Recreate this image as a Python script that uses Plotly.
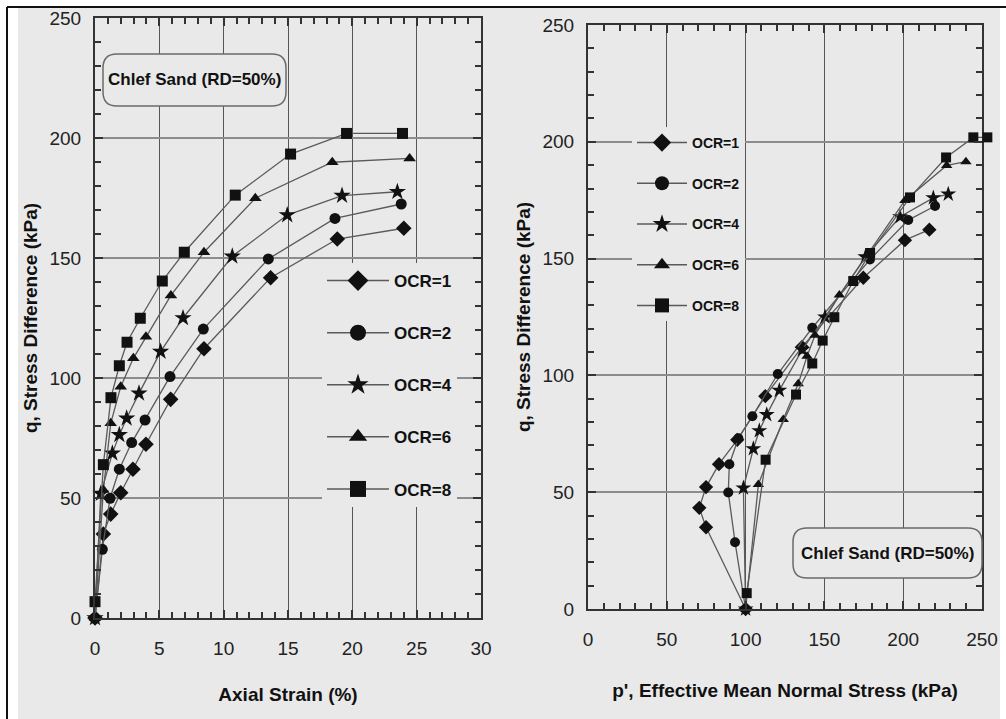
import plotly.graph_objects as go

W, H = 1006, 719

# ---------------- data ----------------
ocr_labels = ["OCR=1", "OCR=2", "OCR=4", "OCR=6", "OCR=8"]
symbols = ["diamond", "circle", "star", "triangle-up", "square"]

strain_ocr1 = [0, 0.65, 1.22, 2.0, 2.95, 3.96, 5.88, 8.47, 13.65, 18.83, 24.0]
q_ocr1 = [0, 35, 43.3, 52.2, 62, 72.4, 91.1, 112.2, 141.8, 157.9, 162.4]
p_ocr1 = [100, 74.9, 70.6, 74.9, 83.1, 94.7, 112.5, 135.8, 174.7, 201.1, 216.6]

strain_ocr2 = [0, 0.57, 1.17, 1.89, 2.85, 3.89, 5.83, 8.42, 13.47, 18.65, 23.8]
q_ocr2 = [0, 28.6, 49.9, 62, 73.1, 82.5, 100.6, 120.4, 149.6, 166.5, 172.5]
p_ocr2 = [100, 93.3, 89.0, 89.7, 95.4, 104.3, 120.4, 142.3, 178.9, 203.2, 220.2]

strain_ocr4 = [0, 0.45, 1.35, 1.89, 2.46, 3.42, 5.1, 6.84, 10.67, 14.94, 19.2, 23.5]
q_ocr4 = [0, 51.8, 68.6, 76.3, 83.2, 93.6, 111, 125, 150.7, 167.9, 176, 177.6]
p_ocr4 = [100, 98.6, 104.9, 108.7, 113.4, 121.4, 136, 150.4, 176, 198, 219.1, 228.6]

strain_ocr6 = [0, 0.65, 1.22, 2.0, 2.98, 3.96, 5.9, 8.47, 12.46, 18.44, 24.45]
q_ocr6 = [0, 53.3, 81.1, 96.4, 108.2, 117.2, 134.4, 152.4, 174.9, 189.9, 191.5]
p_ocr6 = [100, 108.1, 123.9, 133.4, 139, 144, 159.5, 178, 201.1, 227.6, 239.8]

strain_ocr8 = [0, 0.65, 1.24, 1.89, 2.49, 3.52, 5.23, 6.94, 10.9, 15.2, 19.55, 23.9]
q_ocr8 = [6.8, 63.9, 91.8, 105.1, 114.9, 124.9, 140.4, 152.4, 176.2, 193.3, 201.9, 201.9]
p_ocr8 = [100.7, 112.7, 132, 142.3, 148.9, 156.3, 168.3, 179, 204.3, 227.2, 244.5, 253.4]

strain_series = [strain_ocr1, strain_ocr2, strain_ocr4, strain_ocr6, strain_ocr8]
q_series = [q_ocr1, q_ocr2, q_ocr4, q_ocr6, q_ocr8]
p_series = [p_ocr1, p_ocr2, p_ocr4, p_ocr6, p_ocr8]

note_text = "Chlef Sand (RD=50%)"
left_xtitle = "Axial Strain (%)"
right_xtitle = "p', Effective Mean Normal Stress (kPa)"
ytitle = "q, Stress Difference (kPa)"

# ---------------- styling ----------------
FONT = "Liberation Sans, Arial, sans-serif"
LINE_C = "#5a5a5a"
MARK_C = "#111111"
BG = "#e9e9e9"
plot_marker = {"diamond": 12, "circle": 11, "star": 13, "triangle-up": 11, "square": 11}


def px_x(x):
    return x / W


def px_y(y):
    return 1 - y / H


# panel geometry (pixels)
L_X0, L_X1, L_YT, L_YB = 95, 481, 18, 618
R_X0, R_X1, R_YT, R_YB = 588, 982, 25, 609
R_RANGE = 250
R_SCALE = (R_X1 - R_X0) / R_RANGE  # pixels per kPa
# a narrow hidden strip just right of the right panel, with the same scale,
# so that the last OCR=8 point (beyond 250 kPa) is drawn as in the original
S_X0, S_X1 = R_X1 + 1, R_X1 + 16
S_RANGE = [R_RANGE + (S_X0 - R_X1) / R_SCALE, R_RANGE + (S_X1 - R_X1) / R_SCALE]

fig = go.Figure()

for i in range(5):
    sym = symbols[i]
    fig.add_trace(go.Scatter(
        x=strain_series[i], y=q_series[i], mode="lines+markers",
        line=dict(color=LINE_C, width=1.3),
        marker=dict(symbol=sym, size=plot_marker[sym], color=MARK_C),
        showlegend=False, xaxis="x", yaxis="y", cliponaxis=False))
    fig.add_trace(go.Scatter(
        x=p_series[i], y=q_series[i], mode="lines+markers",
        line=dict(color=LINE_C, width=1.3),
        marker=dict(symbol=sym, size=plot_marker[sym] - 1, color=MARK_C),
        showlegend=False, xaxis="x2", yaxis="y2", cliponaxis=False))

# OCR=8 again on the hidden strip (only its part beyond 250 kPa shows there)
fig.add_trace(go.Scatter(
    x=p_series[4], y=q_series[4], mode="lines+markers",
    line=dict(color=LINE_C, width=1.3),
    marker=dict(symbol=symbols[4], size=plot_marker[symbols[4]] - 1, color=MARK_C),
    showlegend=False, xaxis="x3", yaxis="y3", cliponaxis=False))

# legend entries (empty traces, only shown in the legends)
for i in range(5):
    fig.add_trace(go.Scatter(
        x=[None], y=[None], mode="lines+markers", name=ocr_labels[i],
        line=dict(color=LINE_C, width=1.5),
        marker=dict(symbol=symbols[i], size=16, color=MARK_C),
        legend="legend", legendgroup="L%d" % i, xaxis="x", yaxis="y"))
for i in range(5):
    fig.add_trace(go.Scatter(
        x=[None], y=[None], mode="lines+markers", name=ocr_labels[i],
        line=dict(color=LINE_C, width=1.5),
        marker=dict(symbol=symbols[i], size=14, color=MARK_C),
        legend="legend2", legendgroup="R%d" % i, xaxis="x2", yaxis="y2"))

axis_common = dict(
    showline=True, linecolor="#333333", linewidth=2, mirror="ticks",
    ticks="inside", ticklen=8, tickwidth=2, tickcolor="#333333",
    zeroline=False, showgrid=True, automargin=False,
    tickfont=dict(family=FONT, size=19, color="#222222"),
)
minor_common = dict(ticks="inside", ticklen=6, tickwidth=2, tickcolor="#333333", showgrid=False)

xa = dict(axis_common, gridcolor="#555555", gridwidth=1)
ya = dict(axis_common, gridcolor="#8c8c8c", gridwidth=2)
title_font = dict(family=FONT, size=19, color="#111111")

fig.update_layout(
    width=W, height=H,
    margin=dict(l=0, r=0, t=0, b=0, autoexpand=False),
    paper_bgcolor="white", plot_bgcolor=BG,
    font=dict(family=FONT, color="#222222"),
    xaxis=dict(xa, domain=[px_x(L_X0), px_x(L_X1)], range=[0, 30], dtick=5,
               minor=dict(minor_common, dtick=1), ticklabelstandoff=12,
               title=dict(text="<b>%s</b>" % left_xtitle, font=title_font, standoff=30),
               anchor="y"),
    yaxis=dict(ya, domain=[px_y(L_YB), px_y(L_YT)], range=[0, 250], dtick=50,
               minor=dict(minor_common, dtick=10), ticklabelstandoff=8,
               title=dict(text="<b>%s</b>" % ytitle, font=title_font, standoff=7),
               anchor="x"),
    xaxis2=dict(xa, domain=[px_x(R_X0), px_x(R_X1)], range=[0, R_RANGE], dtick=50,
                minor=dict(minor_common, dtick=10), ticklabelstandoff=12,
                title=dict(text="<b>%s</b>" % right_xtitle, font=title_font, standoff=35),
                anchor="y2"),
    yaxis2=dict(ya, domain=[px_y(R_YB), px_y(R_YT)], range=[0, 250], dtick=50,
                minor=dict(minor_common, dtick=10), ticklabelstandoff=8,
                title=dict(text="<b>%s</b>" % ytitle, font=title_font, standoff=7),
                anchor="x2"),
    xaxis3=dict(domain=[px_x(S_X0), px_x(S_X1)], range=S_RANGE, visible=False,
                showgrid=False, zeroline=False, anchor="y3"),
    yaxis3=dict(domain=[px_y(R_YB), px_y(R_YT)], range=[0, 250], visible=False,
                showgrid=False, zeroline=False, anchor="x3"),
    legend=dict(x=px_x(322), y=px_y(263), xanchor="left", yanchor="top",
                bgcolor=BG, borderwidth=0, itemwidth=62, itemsizing="trace",
                tracegroupgap=27, traceorder="grouped",
                font=dict(family=FONT, size=17, color="#111111", weight="bold")),
    legend2=dict(x=px_x(632), y=px_y(127), xanchor="left", yanchor="top",
                 bgcolor=BG, borderwidth=0, itemwidth=50, itemsizing="trace",
                 tracegroupgap=19.5, traceorder="grouped",
                 font=dict(family=FONT, size=14, color="#111111", weight="bold")),
)


def rounded_path(x0, y0, x1, y1, r):
    rx, ry = r / W, r / H
    X0, X1 = px_x(x0), px_x(x1)
    Yt, Yb = px_y(y0), px_y(y1)
    return (f"M{X0 + rx},{Yt} L{X1 - rx},{Yt} Q{X1},{Yt} {X1},{Yt - ry} "
            f"L{X1},{Yb + ry} Q{X1},{Yb} {X1 - rx},{Yb} "
            f"L{X0 + rx},{Yb} Q{X0},{Yb} {X0},{Yb + ry} "
            f"L{X0},{Yt - ry} Q{X0},{Yt} {X0 + rx},{Yt} Z")


shapes = [
    dict(type="rect", xref="paper", yref="paper", x0=px_x(18), x1=px_x(1000), y0=0, y1=px_y(8),
         fillcolor=BG, line=dict(width=0), layer="below"),
    dict(type="line", xref="paper", yref="paper", x0=px_x(7), x1=1, y0=px_y(7), y1=px_y(7),
         line=dict(color="#111111", width=2)),
    dict(type="line", xref="paper", yref="paper", x0=px_x(7), x1=px_x(7), y0=0, y1=px_y(7),
         line=dict(color="#111111", width=2)),
    dict(type="path", xref="paper", yref="paper", path=rounded_path(103, 54, 286, 106, 14),
         fillcolor=BG, line=dict(color="#6a6a6a", width=1.5)),
    dict(type="path", xref="paper", yref="paper", path=rounded_path(793, 528, 982, 578, 14),
         fillcolor=BG, line=dict(color="#6a6a6a", width=1.5)),
]
fig.update_layout(shapes=shapes)

for cx, cy in [(194.5, 80), (887.5, 553)]:
    fig.add_annotation(xref="paper", yref="paper", x=px_x(cx), y=px_y(cy),
                       xanchor="center", yanchor="middle",
                       text="<b>%s</b>" % note_text, showarrow=False,
                       font=dict(family=FONT, size=17, color="#111111"))

fig.write_html("out.html")
